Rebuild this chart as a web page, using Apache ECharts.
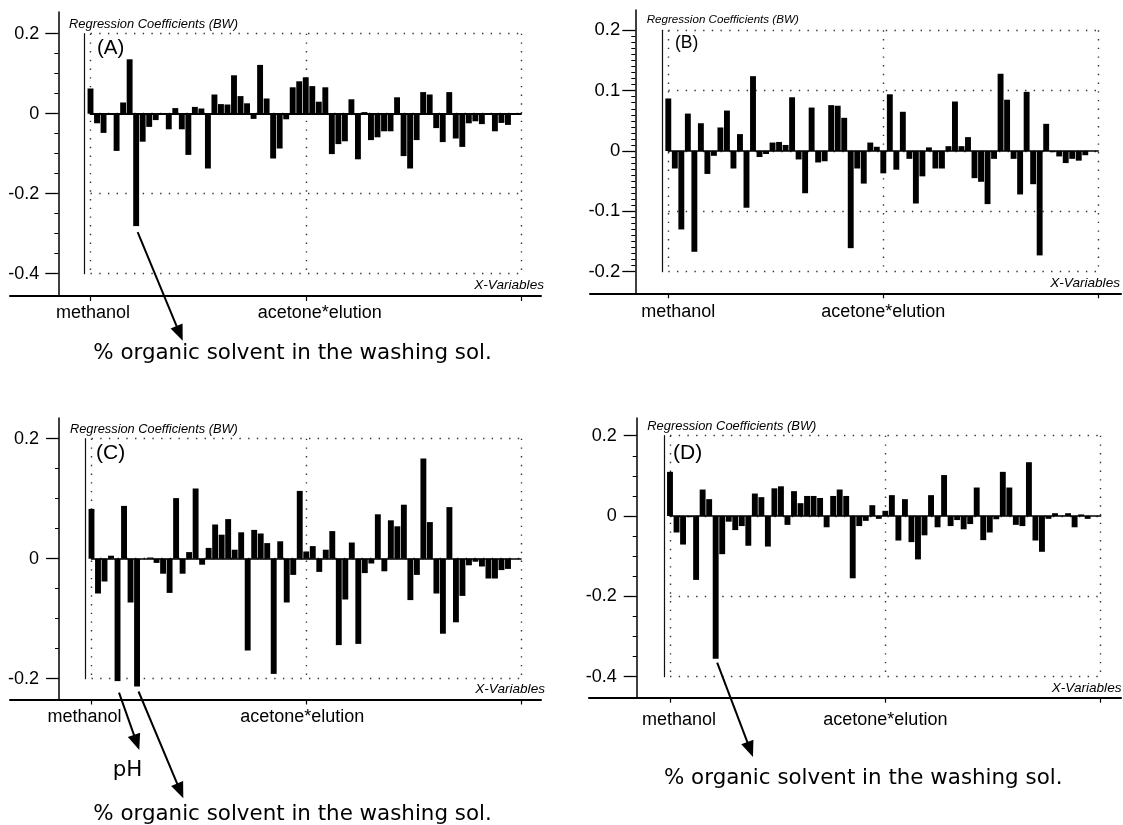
<!DOCTYPE html>
<html>
<head>
<meta charset="utf-8">
<script src="https://cdn.jsdelivr.net/npm/echarts@6/dist/echarts.min.js"></script>
<style>
  html, body { margin: 0; padding: 0; background: #fff; }
  #chart { width: 1123px; height: 825px; }
</style>
</head>
<body>
<div id="chart"></div>
<script>
// Regression coefficients (BW) for the 65 X-variables, one array per model
const coefA = [0.063, -0.024, -0.048, 0, -0.093, 0.028, 0.136, -0.281, -0.07, -0.033,
  -0.016, -0.003, -0.039, 0.014, -0.039, -0.103, 0.017, 0.013, -0.137, 0.048,
  0.024, 0.023, 0.096, 0.044, 0.026, -0.013, 0.122, 0.038, -0.112, -0.087,
  -0.014, 0.066, 0.081, 0.091, 0.069, 0.03, 0.066, -0.101, -0.076, -0.069,
  0.036, -0.114, 0.004, -0.066, -0.059, -0.044, -0.044, 0.041, -0.106, -0.137,
  -0.066, 0.054, 0.048, -0.036, -0.071, 0.054, -0.062, -0.083, -0.024, -0.019,
  -0.026, -0.003, -0.044, -0.023, -0.028];

const coefB = [0.087, -0.029, -0.130, 0.062, -0.167, 0.046, -0.038, -0.008, 0.039, 0.067,
  -0.029, 0.028, -0.094, 0.124, -0.010, -0.005, 0.014, 0.015, 0.010, 0.089,
  -0.014, -0.070, 0.072, -0.019, -0.017, 0.076, 0.075, 0.055, -0.161, -0.029,
  -0.054, 0.014, 0.007, -0.037, 0.094, -0.031, 0.065, -0.013, -0.087, -0.042,
  0.006, -0.029, -0.029, 0.008, 0.082, 0.008, 0.023, -0.045, -0.051, -0.088,
  -0.013, 0.128, 0.085, -0.013, -0.072, 0.098, -0.055, -0.173, 0.045, -0.002,
  -0.009, -0.020, -0.013, -0.016, -0.007];

const coefC = [0.083, -0.058, -0.038, 0.005, -0.204, 0.088, -0.073, -0.213, 0, 0.002,
  -0.007, -0.025, -0.057, 0.101, -0.025, 0.011, 0.117, -0.010, 0.018, 0.057,
  0.040, 0.066, 0.015, 0.044, -0.153, 0.048, 0.042, 0.026, -0.192, 0.029,
  -0.073, -0.027, 0.113, 0.012, 0.021, -0.022, 0.015, 0.046, -0.144, -0.068,
  0.027, -0.142, -0.024, -0.008, 0.074, -0.021, 0.064, 0.054, 0.090, -0.069,
  -0.027, 0.167, 0.061, -0.058, -0.125, 0.086, -0.106, -0.062, -0.011, -0.005,
  -0.013, -0.033, -0.033, -0.019, -0.017];

const coefD = [0.110, -0.041, -0.071, -0.003, -0.159, 0.066, 0.042, -0.355, -0.095, -0.014,
  -0.035, -0.025, -0.074, 0.056, 0.047, -0.076, 0.069, 0.074, -0.022, 0.062,
  0.032, 0.050, 0.050, 0.045, -0.028, 0.050, 0.066, 0.050, -0.155, -0.025,
  -0.012, 0.027, -0.007, 0.013, 0.052, -0.061, 0.042, -0.065, -0.108, -0.048,
  0.052, -0.028, 0.102, -0.025, -0.010, -0.033, -0.020, 0.071, -0.060, -0.041,
  -0.008, 0.110, 0.071, -0.022, -0.025, 0.134, -0.061, -0.089, -0.007, 0.007,
  0.001, 0.007, -0.028, 0.004, -0.007];

// Axis ticks and labels
const xTickPositions = [0, 33, 66];
const xTickLabels = ['methanol', 'acetone*elution'];
const yTicksA = [0.2, 0, -0.2, -0.4];
const yTicksB = [0.2, 0.1, 0, -0.1, -0.2];
const yTicksC = [0.2, 0, -0.2];
const yTicksD = [0.2, 0, -0.2, -0.4];
const xAxisEnd = 66;

// Texts
const yTitle = 'Regression Coefficients (BW)';
const xTitle = 'X-Variables';
const noteSolvent = '% organic solvent in the washing sol.';
const notePH = 'pH';

const SANS = "'Liberation Sans', Arial, Helvetica, sans-serif";
const NOTE_FONT = "'DejaVu Sans', Verdana, sans-serif";
const DOT = { type: [1.4, 7.3], width: 1.4, color: '#333' };

// Panel layout (pixels)
const panels = [
  {
    tag: '(A)', coef: coefA, yTicks: yTicksA, minorStep: 0.05, gridStep: 0.2,
    plot: { x0: 90.5, x1: 521, top: 33.7, bottom: 273.7 },
    frame: { left: 10, right: 541, top: 12, bottom: 296, axisX: 58.3 },
    yLabelMargin: 19, yLabelSize: 18, xLabelMargin: 8, xLabelShift: [2.5, 14], zeroWidth: 2,
    title: { x: 69, y: 24, size: 12.9 }, tagPos: { x: 97, y: 48, size: 20.5 }, xTitlePos: { x: 544, y: 285 },
    notes: [
      { text: noteSolvent, x: 93.3, y: 353.3, bar: 7, gap: 6, tip: [182.7, 340.7] }
    ]
  },
  {
    tag: '(B)', coef: coefB, yTicks: yTicksB, minorStep: 0.01, gridStep: 0.1,
    plot: { x0: 668.3, x1: 1098.3, top: 30.3, bottom: 271.7 },
    frame: { left: 590, right: 1121, top: 10, bottom: 293.3, axisX: 635.3 },
    yLabelMargin: 15, yLabelSize: 18.5, xLabelMargin: 10, xLabelShift: [10, 0], zeroWidth: 1.5,
    title: { x: 646.7, y: 20, size: 11.6 }, tagPos: { x: 675, y: 42.7, size: 17.5 }, xTitlePos: { x: 1120, y: 283.3 },
    notes: []
  },
  {
    tag: '(C)', coef: coefC, yTicks: yTicksC, minorStep: 0.05, gridStep: 0.2,
    plot: { x0: 91.5, x1: 521, top: 438.7, bottom: 678.7 },
    frame: { left: 10, right: 541, top: 418, bottom: 699.5, axisX: 59 },
    yLabelMargin: 20, yLabelSize: 18, xLabelMargin: 9, xLabelShift: [-7, -4], zeroWidth: 1.5,
    title: { x: 70, y: 429.3, size: 12.8 }, tagPos: { x: 96, y: 453.3, size: 21 }, xTitlePos: { x: 545, y: 689.3 },
    notes: [
      { text: notePH, x: 112.7, y: 770, bar: 4, gap: 11.6, tip: [139.3, 750] },
      { text: noteSolvent, x: 93.3, y: 814, bar: 7, gap: 5, tip: [183.3, 798.3] }
    ]
  },
  {
    tag: '(D)', coef: coefD, yTicks: yTicksD, minorStep: 0.05, gridStep: 0.2,
    plot: { x0: 670, x1: 1100.7, top: 435.7, bottom: 676.7 },
    frame: { left: 589, right: 1121, top: 418, bottom: 697.7, axisX: 636.7 },
    yLabelMargin: 20, yLabelSize: 18, xLabelMargin: 13, xLabelShift: [9, 0], zeroWidth: 1.5,
    title: { x: 647.3, y: 426.7, size: 12.9 }, tagPos: { x: 673, y: 453, size: 21 }, xTitlePos: { x: 1121.5, y: 688.3 },
    notes: [
      { text: noteSolvent, x: 664, y: 778, bar: 7, gap: 4, tip: [753, 757] }
    ]
  }
];

function fmtY(v) {
  const r = Math.round(v * 100) / 100;
  return (r === 0 ? 0 : r).toString();
}

function minorTicks(ticks, step) {
  const lo = Math.min(...ticks), hi = Math.max(...ticks);
  const out = [];
  const n = Math.round((hi - lo) / step);
  for (let i = 0; i <= n; i++) {
    const v = Math.round((lo + i * step) * 1000) / 1000;
    if (!ticks.some(t => Math.abs(t - v) < 1e-9)) out.push(v);
  }
  return out;
}

const grids = [], xAxes = [], yAxes = [], series = [];
const barSeriesIndex = [];

panels.forEach((p) => {
  const yMin = Math.min(...p.yTicks), yMax = Math.max(...p.yTicks);
  const pxX = (p.plot.x1 - p.plot.x0) / xAxisEnd;
  const pxY = (p.plot.bottom - p.plot.top) / (yMax - yMin);

  // outer frame: axis lines, ticks and tick labels
  const gFrame = grids.length;
  grids.push({
    left: p.frame.left, top: p.frame.top,
    width: p.frame.right - p.frame.left, height: p.frame.bottom - p.frame.top,
    containLabel: false, outerBoundsMode: 'none'
  });
  const rich = {};
  xTickLabels.forEach((t, i) => {
    const s = p.xLabelShift[i] || 0;
    rich['t' + i] = {
      fontSize: 18, fontFamily: SANS, color: '#000',
      padding: s >= 0 ? [0, 0, 0, 2 * s] : [0, -2 * s, 0, 0]
    };
  });
  xAxes.push({
    type: 'value', gridIndex: gFrame,
    min: (p.frame.left - p.plot.x0) / pxX,
    max: xAxisEnd + (p.frame.right - p.plot.x1) / pxX,
    axisLine: { show: true, onZero: false, lineStyle: { color: '#000', width: 2 } },
    axisTick: { show: true, customValues: xTickPositions, length: 5, lineStyle: { color: '#000', width: 1.2 } },
    axisLabel: {
      show: true, customValues: xTickPositions.slice(0, xTickLabels.length),
      margin: p.xLabelMargin, fontSize: 18, fontFamily: SANS, color: '#000',
      formatter: (v) => {
        const i = xTickPositions.findIndex(t => Math.abs(t - v) < 1e-6);
        return i >= 0 && i < xTickLabels.length ? '{t' + i + '|' + xTickLabels[i] + '}' : '';
      },
      rich: rich
    },
    splitLine: { show: false }
  });
  const fyMin = yMin - (p.frame.bottom - p.plot.bottom) / pxY;
  const fyMax = yMax + (p.plot.top - p.frame.top) / pxY;
  const offset = -(p.frame.axisX - p.frame.left);
  // major ticks with labels
  yAxes.push({
    type: 'value', gridIndex: gFrame, position: 'left', offset: offset,
    min: fyMin, max: fyMax,
    axisLine: { show: true, onZero: false, lineStyle: { color: '#000', width: 1.5 } },
    axisTick: { show: true, customValues: p.yTicks, length: 13, lineStyle: { color: '#000', width: 1.3 } },
    axisLabel: {
      show: true, customValues: p.yTicks, margin: p.yLabelMargin,
      fontSize: p.yLabelSize, fontFamily: SANS, color: '#000', formatter: fmtY
    },
    splitLine: { show: false }
  });
  // minor ticks
  yAxes.push({
    type: 'value', gridIndex: gFrame, position: 'left', offset: offset,
    min: fyMin, max: fyMax,
    axisLine: { show: false, onZero: false },
    axisTick: { show: true, customValues: minorTicks(p.yTicks, p.minorStep), length: 4, lineStyle: { color: '#000', width: 1 } },
    axisLabel: { show: false },
    splitLine: { show: false }
  });

  // inner plot: dotted grid, zero line, bars
  const gPlot = grids.length;
  grids.push({
    left: p.plot.x0, top: p.plot.top,
    width: p.plot.x1 - p.plot.x0, height: p.plot.bottom - p.plot.top,
    containLabel: false, outerBoundsMode: 'none'
  });
  const xi = xAxes.length;
  xAxes.push({
    type: 'value', gridIndex: gPlot, min: 0, max: xAxisEnd, interval: 33,
    axisLine: { show: true, onZero: true, lineStyle: { color: '#000', width: p.zeroWidth } },
    axisTick: { show: false }, axisLabel: { show: false },
    splitLine: { show: true, lineStyle: DOT }
  });
  const yi = yAxes.length;
  yAxes.push({
    type: 'value', gridIndex: gPlot, min: yMin, max: yMax, interval: p.gridStep,
    position: 'left', offset: 6,
    axisLine: { show: true, onZero: false, lineStyle: { color: '#111', width: 1.2 } },
    axisTick: { show: false }, axisLabel: { show: false },
    splitLine: { show: true, lineStyle: DOT }
  });
  barSeriesIndex.push(series.length);
  series.push({
    type: 'bar', xAxisIndex: xi, yAxisIndex: yi,
    data: p.coef.map((v, i) => [i, v]),
    barWidth: 5.9, clip: false, silent: true,
    itemStyle: { color: '#000' }
  });
});

const chart = echarts.init(document.getElementById('chart'), null, { renderer: 'canvas' });
chart.setOption({
  animation: false,
  backgroundColor: '#fff',
  grid: grids,
  xAxis: xAxes,
  yAxis: yAxes,
  series: series
});

// Titles, panel tags and arrow annotations
const graphics = [];
function addText(text, x, y, size, opts) {
  graphics.push({
    type: 'text', x: x, y: y, silent: true, z: 10,
    style: Object.assign({
      text: text, fontSize: size, fontFamily: SANS, fill: '#000',
      align: 'left', verticalAlign: 'middle'
    }, opts || {})
  });
}
function addArrow(start, tip) {
  const dx = tip[0] - start[0], dy = tip[1] - start[1];
  const len = Math.hypot(dx, dy);
  const ux = dx / len, uy = dy / len;
  const L = 16, W = 6.5;
  const bx = tip[0] - ux * L, by = tip[1] - uy * L;
  graphics.push({
    type: 'line', silent: true, z: 10,
    shape: { x1: start[0], y1: start[1], x2: bx + ux * 2, y2: by + uy * 2 },
    style: { stroke: '#000', lineWidth: 2 }
  });
  graphics.push({
    type: 'polygon', silent: true, z: 10,
    shape: { points: [[tip[0], tip[1]], [bx - uy * W, by + ux * W], [bx + uy * W, by - ux * W]] },
    style: { fill: '#000' }
  });
}

panels.forEach((p, k) => {
  addText(yTitle, p.title.x, p.title.y, p.title.size, { fontStyle: 'italic' });
  addText(p.tag, p.tagPos.x, p.tagPos.y, p.tagPos.size);
  addText(xTitle, p.xTitlePos.x, p.xTitlePos.y, 13.6, { fontStyle: 'italic', align: 'right' });
  p.notes.forEach((n) => {
    const barPx = chart.convertToPixel({ seriesIndex: barSeriesIndex[k] }, [n.bar, p.coef[n.bar]]);
    addArrow([barPx[0] + 1.5, barPx[1] + n.gap], n.tip);
    addText(n.text, n.x, n.y, 21.4, { fontFamily: NOTE_FONT });
  });
});

chart.setOption({ graphic: graphics });
</script>
</body>
</html>
